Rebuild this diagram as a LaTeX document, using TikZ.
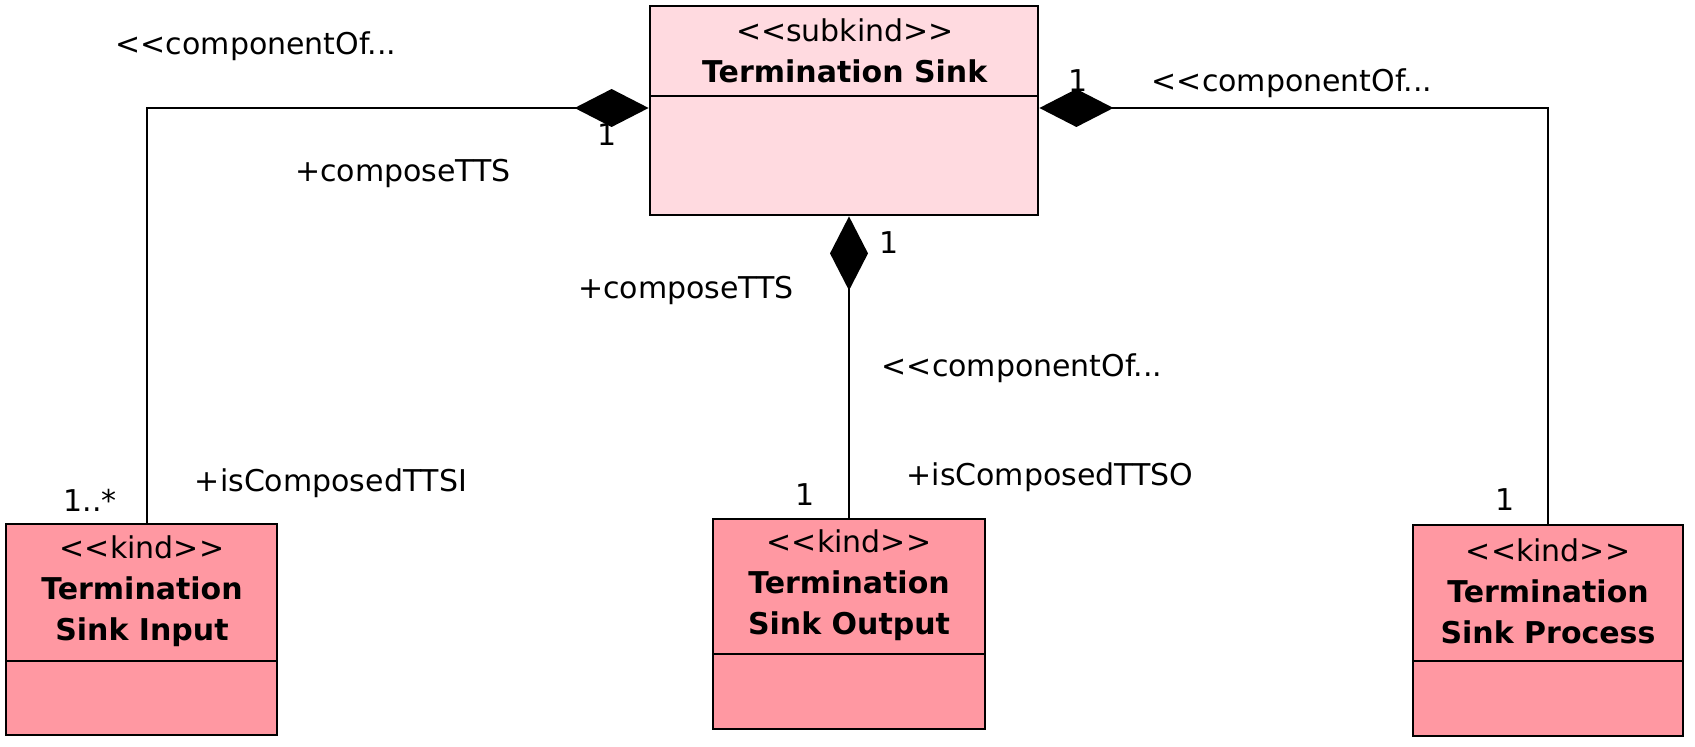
\documentclass[tikz,border=0pt]{standalone}
\usepackage{fontspec}
\setmainfont{DejaVu Sans}[Ligatures=TeXOff]
\usetikzlibrary{arrows.meta}
\definecolor{toppink}{RGB}{255,218,224}
\definecolor{kindpink}{RGB}{255,152,162}
\tikzset{
  cls/.style={draw=black, line width=1.4pt, inner sep=0pt},
  ttl/.style={align=center, font=\fontsize{15}{20.5}\selectfont, inner sep=0pt},
  lbl/.style={font=\fontsize{15}{18}\selectfont, inner sep=0pt},
  comp/.style={line width=1.2pt, -{Diamond[length=37pt,width=19pt,fill=black]}},
  sep/.style={line width=1.4pt}
}
\begin{document}
\begin{tikzpicture}[x=0.5pt,y=-0.5pt]
\useasboundingbox (0,0) rectangle (1695,747);
% class boxes
\node[cls, fill=toppink, minimum width=194pt, minimum height=104.5pt] (ts) at (844,110.5) {};
\node[cls, fill=kindpink, minimum width=135.5pt, minimum height=105.5pt] (tsi) at (141.5,629.5) {};
\node[cls, fill=kindpink, minimum width=136pt, minimum height=105pt] (tso) at (849,624) {};
\node[cls, fill=kindpink, minimum width=135pt, minimum height=105.5pt] (tsp) at (1548,630.5) {};
% dividers
\draw[sep] (650,96) -- (1038,96);
\draw[sep] (6,661) -- (277,661);
\draw[sep] (713,654) -- (985,654);
\draw[sep] (1413,661) -- (1683,661);
% titles
\node[ttl] (tst) at (845,51) {<<subkind>>\\\textbf{Termination Sink}};
\node[ttl] (tsit) at (142,591) {<<kind>>\\\textbf{Termination}\\\textbf{Sink Input}};
\node[ttl] (tsot) at (849,585) {<<kind>>\\\textbf{Termination}\\\textbf{Sink Output}};
\node[ttl] (tspt) at (1548,591) {<<kind>>\\\textbf{Termination}\\\textbf{Sink Process}};
% labels
\node[lbl] (l1) at (256,46) {<<componentOf...};
\node[lbl] (l2) at (403,173) {+composeTTS};
\node[lbl] (l3) at (607,135) {1};
\node[lbl] (l4) at (90,500) {1..*};
\node[lbl] (l5) at (331,483) {+isComposedTTSI};
\node[lbl] (m1) at (889,243) {1};
\node[lbl] (m2) at (686,290) {+composeTTS};
\node[lbl] (m3) at (1022,368) {<<componentOf...};
\node[lbl] (m4) at (805,495) {1};
\node[lbl] (m5) at (1050,477) {+isComposedTTSO};
\node[lbl] (r1) at (1078,81) {1};
\node[lbl] (r2) at (1292,83) {<<componentOf...};
\node[lbl] (r3) at (1505,500) {1};
% attach points
\coordinate (tsW) at (ts.west |- 0,108);
\coordinate (tsE) at (ts.east |- 0,108);
\coordinate (tsS) at (849,0 |- ts.south);
\coordinate (tsiN) at (147,0 |- tsi.north);
% connectors
\draw[comp] (tsiN) |- (tsW);
\draw[comp] (tso.north) -- (tsS);
\draw[comp] (tsp.north) |- (tsE);
\end{tikzpicture}
\end{document}
